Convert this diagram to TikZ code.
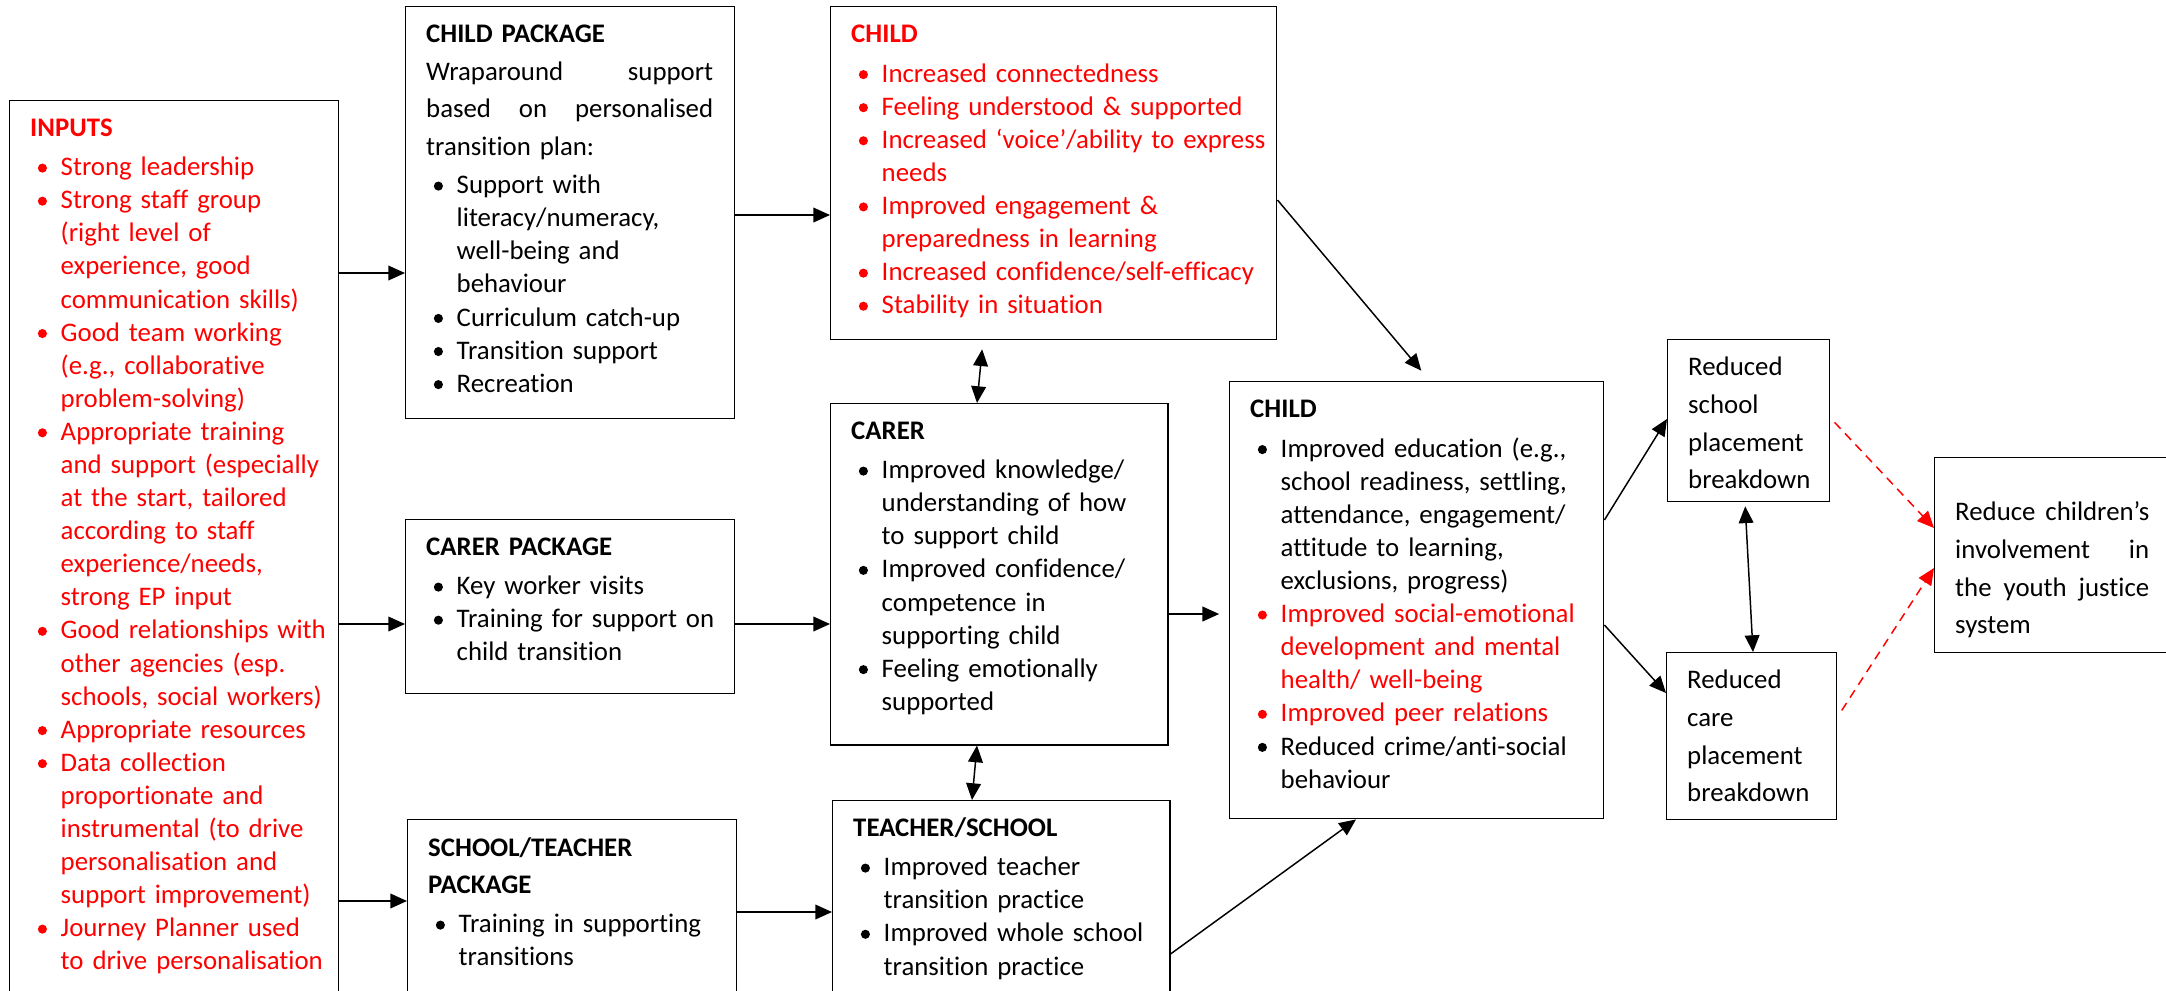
\documentclass[tikz,border=0pt]{standalone}
\usepackage{fontspec}
\setmainfont{Carlito}[Ligatures=NoCommon]
\usetikzlibrary{arrows.meta}

% bullet item with hanging indent, a line break inside it, and a line spread to a width
\newcommand{\itm}{\par\hangindent=12.4pt\hangafter=1\noindent\makebox[12.4pt][l]{\hspace{3.1pt}\tikz[baseline=-3.1pt]\fill (0,0) circle (1.85pt);}}
\newcommand{\brk}{\newline}
\newcommand{\spr}[3]{\makebox[#1][l]{#2\hfill #3}}

\begin{document}
\begin{tikzpicture}[x=0.4065pt, y=-0.4065pt,
    box/.style={draw, line width=0.6pt, anchor=north west, inner sep=0pt, align=left,
        font=\fontsize{10.9}{13.45}\selectfont, execute at begin node={\leftskip=8.33pt}},
    arr/.style={-{Triangle[length=6.8pt,width=6pt]}, line width=0.6pt},
    dbl/.style={{Triangle[length=6.8pt,width=6pt]}-{Triangle[length=6.8pt,width=6pt]}, line width=0.6pt},
    redarr/.style={arr, red, dash pattern=on 3.6pt off 2.6pt}]
    \useasboundingbox (0,0) rectangle (2166,990);
    \clip (0,0) rectangle (2166,990);

    % Inputs
    \node[box, text=red, text width=133.74pt, text height=14.63pt, text depth=355.3pt] (inputs) at (9,100)
        {\textbf{INPUTS}\par\vspace{2.4pt}
        \itm Strong leadership
        \itm Strong staff group\brk(right level of\brk experience, good\brk communication skills)
        \itm Good team working\brk(e.g., collaborative\brk problem-solving)
        \itm Appropriate training\brk and support (especially\brk at the start, tailored\brk according to staff\brk experience/needs,\brk strong EP input
        \itm Good relationships with\brk other agencies (esp.\brk schools, social workers)
        \itm Appropriate resources
        \itm Data collection\brk proportionate and\brk instrumental (to drive\brk personalisation and\brk support improvement)
        \itm Journey Planner used\brk to drive personalisation\par};

    % Packages
    \node[box, text width=133.74pt, text height=14.63pt, text depth=152.84pt] (childpkg) at (405,6)
        {\textbf{CHILD PACKAGE}\par
        {\baselineskip=15.24pt \spr{116.67pt}{Wraparound}{support}\\\spr{116.67pt}{based\hfill on}{personalised}\\transition plan:\par}
        \vspace{2.2pt}
        \itm Support with\brk literacy/numeracy,\brk well-being and\brk behaviour
        \itm Curriculum catch-up
        \itm Transition support
        \itm Recreation\par};
    \node[box, text width=133.74pt, text height=14.63pt, text depth=56.1pt] (carerpkg) at (405,519)
        {\textbf{CARER PACKAGE}\par\vspace{2.4pt}
        \itm Key worker visits
        \itm Training for support on\brk child transition\par};
    \node[box, text width=133.74pt, text height=15.04pt, text depth=62.6pt] (schoolpkg) at (407,819)
        {{\bfseries\baselineskip=15.04pt SCHOOL/TEACHER\\PACKAGE\par}\vspace{2.4pt}
        \itm Training in supporting\brk transitions\par};

    % Short-term outcomes
    \node[box, text=red, text width=181.3pt, text height=14.63pt, text depth=120.73pt] (childshort) at (830,6)
        {\textbf{CHILD}\par\vspace{2.6pt}
        \itm Increased connectedness
        \itm Feeling understood \& supported
        \itm Increased ‘voice’/ability to express\brk needs
        \itm Improved engagement \&\brk preparedness in learning
        \itm Increased confidence/self-efficacy
        \itm Stability in situation\par};
    \node[box, text width=137pt, text height=14.63pt, text depth=124pt] (carer) at (830,403)
        {\textbf{CARER}\par\vspace{2.4pt}
        \itm Improved knowledge/\brk understanding of how\brk to support child
        \itm Improved confidence/\brk competence in\brk supporting child
        \itm Feeling emotionally\brk supported\par};
    \node[box, text width=137pt, text height=14.63pt, text depth=70.7pt] (teacher) at (832,800)
        {\textbf{TEACHER/SCHOOL}\par\vspace{2.4pt}
        \itm Improved teacher\brk transition practice
        \itm Improved whole school\brk transition practice\par};

    % Longer-term outcomes
    \node[box, text width=152pt, text height=14.63pt, text depth=163pt] (childlong) at (1229,381)
        {\textbf{CHILD}\par\vspace{2.6pt}
        \itm Improved education (e.g.,\brk school readiness, settling,\brk attendance, engagement/\brk attitude to learning,\brk exclusions, progress)
        \color{red}\itm Improved social-emotional\brk development and mental\brk health/ well-being
        \itm Improved peer relations
        \color{black}\itm Reduced crime/anti-social\brk behaviour\par};
    \node[box, text width=65.85pt, text height=14.63pt, text depth=51.2pt] (schoolbrk) at (1667,339)
        {\baselineskip=15.32pt Reduced\\school\\placement\\breakdown\par};
    \node[box, text width=69.1pt, text height=14.63pt, text depth=53.25pt] (carebrk) at (1666,652)
        {\baselineskip=15.32pt Reduced\\care\\placement\\breakdown\par};
    \node[box, text width=97.6pt, text height=25.6pt, text depth=53.66pt] (youthjustice) at (1934,457)
        {\baselineskip=15.32pt \spr{78.86pt}{Reduce}{children’s}\\\spr{78.86pt}{involvement}{in}\\\spr{78.86pt}{the\hfill youth}{justice}\\system\par};

    % Inputs to packages
    \draw[arr] (inputs.east |- 0,273) -- (childpkg.west |- 0,273);
    \draw[arr] (inputs.east |- 0,624) -- (carerpkg.west |- 0,624);
    \draw[arr] (inputs.east |- 0,901) -- (schoolpkg.west |- 0,901);

    % Packages to outcomes
    \draw[arr] (childpkg.east |- 0,215) -- (childshort.west |- 0,215);
    \draw[arr] (carerpkg.east |- 0,624) -- (carer.west |- 0,624);
    \draw[arr] (schoolpkg.east |- 0,912) -- (teacher.west |- 0,912);
    \draw[dbl, shorten <=3.6pt] (childshort.south -| 983,0) -- (carer.north -| 977,0);
    \draw[dbl] (carer.south -| 977,0) -- (teacher.north -| 972,0);

    % Into the child
    \draw[arr, shorten >=5.5pt] (childshort.east |- 0,200) -- (childlong.north -| 1430,0);
    \draw[arr, shorten >=4pt] (carer.east |- 0,614) -- (childlong.west |- 0,614);
    \draw[arr] (teacher.east |- 0,954) -- (childlong.south -| 1356,0);

    % Placements and youth justice
    \draw[arr] (childlong.east |- 0,520) -- (schoolbrk.west |- 0,419);
    \draw[arr] (childlong.east |- 0,625) -- (carebrk.west |- 0,693);
    \draw[dbl, shorten <=1.6pt] (schoolbrk.south -| 1745,0) -- (carebrk.north -| 1753,0);
    \draw[redarr, shorten <=2.4pt] (schoolbrk.east |- 0,418) -- (youthjustice.west |- 0,528);
    \draw[redarr, shorten <=3.2pt] (carebrk.east |- 0,717) -- (youthjustice.west |- 0,568);
\end{tikzpicture}
\end{document}
